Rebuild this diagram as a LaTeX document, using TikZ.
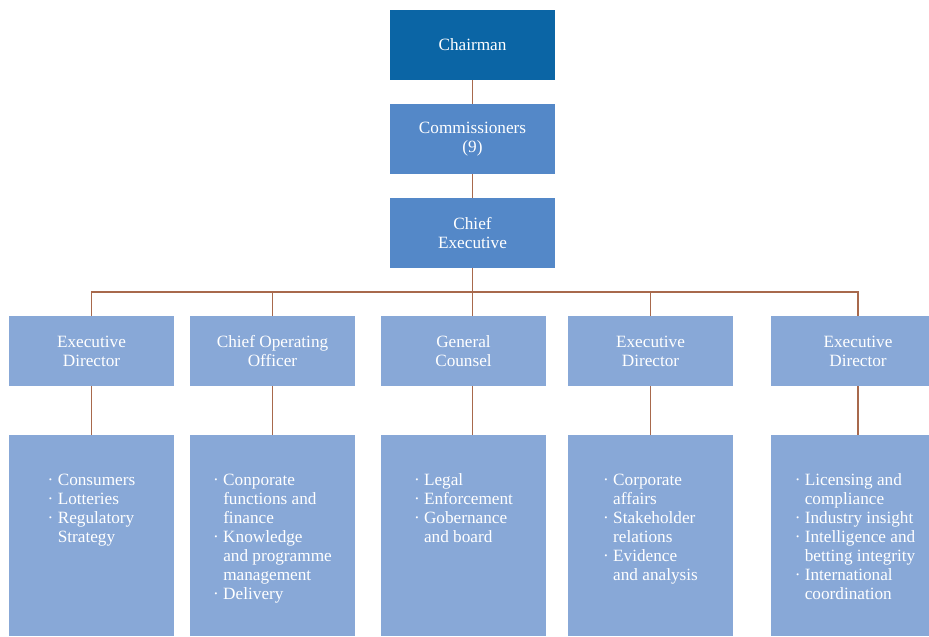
\documentclass[tikz,border=0pt]{standalone}
\usepackage{fontspec}
\setmainfont{Liberation Serif}
\usetikzlibrary{calc}
\definecolor{chairblue}{HTML}{0B65A5}
\definecolor{midblue}{HTML}{5488C8}
\definecolor{paleblue}{HTML}{88A8D7}
\definecolor{rust}{HTML}{A8694C}
\newcommand{\dotitem}{·\ }
\newcommand{\dotcont}{\hphantom{·\ }}

\begin{document}
\begin{tikzpicture}[x=0.02cm, y=-0.02cm,
  box/.style={minimum width=3.3cm, minimum height=1.4cm, inner sep=0pt, text=white,
    align=center, font=\fontsize{9.8}{10.8}\selectfont},
  listbox/.style={minimum width=3.3cm, minimum height=4.02cm, inner sep=0pt, fill=paleblue},
  listtext/.style={anchor=north, inner sep=0pt, text=white, align=left,
    font=\fontsize{9.8}{10.8}\selectfont},
  link/.style={rust, line width=0.6pt}]

% Page frame
\useasboundingbox (0,0) rectangle (929,636);
\fill[white] (0,0) rectangle (929,636);

% Top of the chart
\node[box, fill=chairblue] (chair) at (472.5,45) {Chairman};
\node[box, fill=midblue] (comm) at (472.5,139) {Commissioners\\(9)};
\node[box, fill=midblue] (ceo) at (472.5,233) {Chief\\Executive};

% Directors row
\node[box, fill=paleblue] (dirA) at (91.5,351) {Executive\\Director};
\node[box, fill=paleblue] (dirB) at (272.5,351) {Chief Operating\\Officer};
\node[box, fill=paleblue] (dirC) at (463.5,351) {General\\Counsel};
\node[box, fill=paleblue] (dirD) at (650.5,351) {Executive\\Director};
\node[box, fill=paleblue, minimum width=3.48cm] (dirE) at (858,351) {Executive\\Director};

% Remit boxes under each director
\node[listbox] (listA) at (91.5,535.5) {};
\node[listbox] (listB) at (272.5,535.5) {};
\node[listbox] (listC) at (463.5,535.5) {};
\node[listbox] (listD) at (650.5,535.5) {};
\node[listbox, minimum width=3.48cm] (listE) at (858,535.5) {};

\node[listtext] (txtA) at ($(listA.north)+(0,39)$)
  {\dotitem Consumers\\\dotitem Lotteries\\\dotitem Regulatory\\\dotcont Strategy};
\node[listtext] (txtB) at ($(listB.north)+(0,39)$)
  {\dotitem Conporate\\\dotcont functions and\\\dotcont finance\\\dotitem Knowledge\\
   \dotcont and programme\\\dotcont management\\\dotitem Delivery};
\node[listtext] (txtC) at ($(listC.north)+(0,39)$)
  {\dotitem Legal\\\dotitem Enforcement\\\dotitem Gobernance\\\dotcont and board};
\node[listtext] (txtD) at ($(listD.north)+(0,39)$)
  {\dotitem Corporate\\\dotcont affairs\\\dotitem Stakeholder\\\dotcont relations\\
   \dotitem Evidence\\\dotcont and analysis};
\node[listtext] (txtE) at ($(listE.north)+(-3,39)$)
  {\dotitem Licensing and\\\dotcont compliance\\\dotitem Industry insight\\
   \dotitem Intelligence and\\\dotcont betting integrity\\\dotitem International\\
   \dotcont coordination};

% Connectors
\coordinate (bus) at (0,292);
\draw[link] (chair.south) -- (comm.north);
\draw[link] (comm.south) -- (ceo.north);
\foreach \d in {dirA,dirB,dirD,dirE}
  \draw[link] (ceo.south) -- (ceo.south |- bus) -| (\d.north);
\draw[link] (ceo.south) -- (ceo.south |- dirC.north);
\foreach \d/\l in {dirA/listA,dirB/listB,dirD/listD,dirE/listE}
  \draw[link] (\d.south) -- (\l.north);
\draw[link] (ceo.south |- dirC.south) -- (ceo.south |- listC.north);

\end{tikzpicture}
\end{document}
